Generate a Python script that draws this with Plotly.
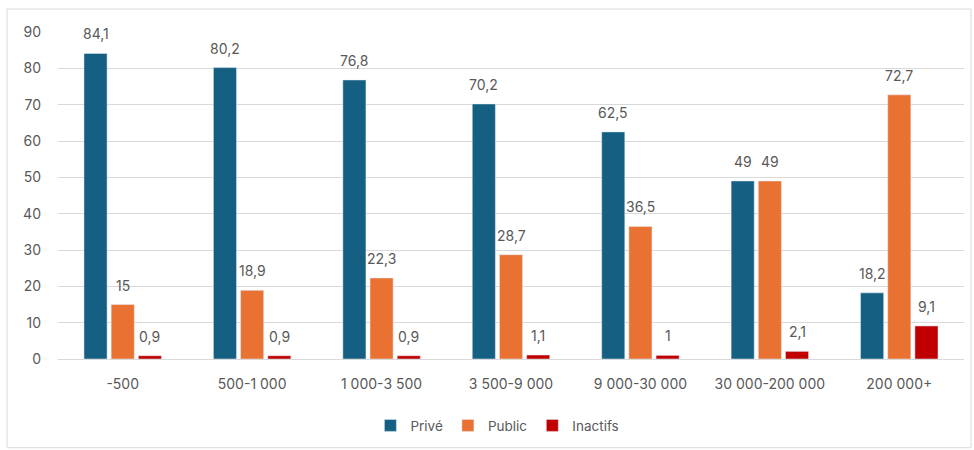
import plotly.graph_objects as go

categories = ["-500", "500-1 000", "1 000-3 500", "3 500-9 000", "9 000-30 000", "30 000-200 000", "200 000+"]
prive = [84.1, 80.2, 76.8, 70.2, 62.5, 49, 18.2]
public = [15, 18.9, 22.3, 28.7, 36.5, 49, 72.7]
inactifs = [0.9, 0.9, 0.9, 1.1, 1, 2.1, 9.1]
y_ticks = [0, 10, 20, 30, 40, 50, 60, 70, 80, 90]

def fr(v):
    return ("%g" % v).replace(".", ",")

series = [("Privé", prive, "#156082"), ("Public", public, "#E97132"), ("Inactifs", inactifs, "#C00000")]

W, H = 974, 450
ml, mr, mt, mb = 58, 10, 32, 90
bargap = 0.37

fig = go.Figure()
for name, vals, col in series:
    fig.add_trace(go.Bar(x=categories, y=vals, name=name, marker_color=col))

pw = W - ml - mr
slot = pw / len(categories) * (1 - bargap) / len(series)
for i, (name, vals, col) in enumerate(series):
    for j, v in enumerate(vals):
        fig.add_annotation(x=j, y=v, text=fr(v), showarrow=False, xref="x", yref="y",
                           yanchor="bottom", xanchor="center", yshift=9,
                           xshift=(i - 1) * slot,
                           font=dict(size=14, color="#595959"))

fig.update_layout(
    width=W, height=H,
    margin=dict(l=ml, r=mr, t=mt, b=mb),
    paper_bgcolor="white", plot_bgcolor="white",
    font=dict(family="Inter, Open Sans, sans-serif", color="#595959", size=14),
    barmode="group", bargap=bargap, bargroupgap=0.15,
    showlegend=True,
    legend=dict(orientation="h", x=0.485, xanchor="center", y=-0.2, yanchor="middle",
                font=dict(size=13.5, color="#595959"), traceorder="normal",
                itemwidth=30, tracegroupgap=0),
    xaxis=dict(type="category", range=[-0.5, len(categories) - 0.5], showgrid=False,
               showline=True, linecolor="#d9d9d9", linewidth=1,
               tickfont=dict(size=14, color="#595959"), ticks="", ticklabelstandoff=12),
    yaxis=dict(range=[0, 90], tickvals=y_ticks, showgrid=True, gridcolor="#d9d9d9",
               gridwidth=1, zeroline=False, showline=False, ticks="",
               tickfont=dict(size=14, color="#595959"), ticklabelstandoff=16),
)

ph = H - mt - mb
x0 = (7 - ml) / pw
x1 = (971 - ml) / pw
y1 = (H - mb - 9) / ph
y0 = (H - mb - 449) / ph
fig.add_shape(type="rect", xref="paper", yref="paper", x0=x0, x1=x1, y0=y0, y1=y1,
              line=dict(color="#d9d9d9", width=1), layer="below")

fig.write_html("out.html")
